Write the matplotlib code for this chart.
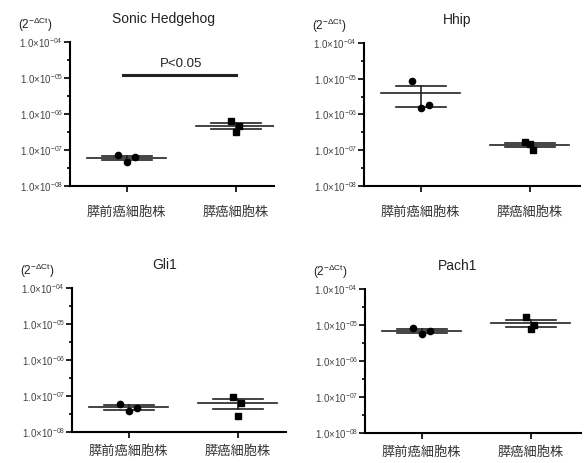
import numpy as np
import matplotlib
matplotlib.use("Agg")
import matplotlib.pyplot as plt

plt.rcParams['font.family'] = ['Liberation Sans', 'Noto Sans CJK JP', 'DejaVu Sans']
plt.rcParams['mathtext.fontset'] = 'custom'
plt.rcParams['mathtext.rm'] = 'Liberation Sans'
plt.rcParams['mathtext.it'] = 'Liberation Sans'

categories = ['膵前癌細胞株', '膵癌細胞株']
genes = ['Sonic Hedgehog', 'Hhip', 'Gli1', 'Pach1']

# three cell lines per group (2^-dCt)
shh_pre = [7.4e-8, 4.5e-8, 6.3e-8]
shh_ca = [6.4e-7, 4.6e-7, 3.2e-7]
hhip_pre = [8.7e-6, 1.5e-6, 1.8e-6]
hhip_ca = [1.65e-7, 1.03e-7, 1.5e-7]
gli1_pre = [6.0e-8, 3.9e-8, 4.6e-8]
gli1_ca = [9.6e-8, 6.5e-8, 2.7e-8]
pach1_pre = [8.5e-6, 5.5e-6, 6.6e-6]
pach1_ca = [1.66e-5, 1.02e-5, 7.8e-6]

jitter_pre = [-0.08, 0.0, 0.08]
jitter_ca = [-0.04, 0.03, 0.0]

data = [(shh_pre, shh_ca), (hhip_pre, hhip_ca), (gli1_pre, gli1_ca), (pach1_pre, pach1_ca)]

decades = [1e-8, 1e-7, 1e-6, 1e-5, 1e-4]
tick_labels = ['1.0×10$^{-08}$', '1.0×10$^{-07}$', '1.0×10$^{-06}$',
               '1.0×10$^{-05}$', '1.0×10$^{-04}$']

W, H = 584, 463
fig = plt.figure(figsize=(5.84, 4.63), dpi=100)

# axes boxes in pixels: left spine x, right end x, top y, bottom y, label pad
boxes = [(70, 274, 42, 186, 10), (364, 580, 43, 186, 10),
         (72, 286, 288, 432, 5), (365, 581, 289, 433, 5)]

for gene, (pre, ca), (x0, x1, yt, yb, pad) in zip(genes, data, boxes):
    ax = fig.add_axes([x0 / W, 1 - yb / H, (x1 - x0) / W, (yb - yt) / H])
    ax.set_yscale('log')
    ax.set_ylim(1e-8, 1e-4)
    ax.set_xlim(-0.52, -0.52 + (x1 - x0) / 109)

    for i, (vals, jit, mk) in enumerate([(pre, jitter_pre, 'o'), (ca, jitter_ca, 's')]):
        vals = np.array(vals)
        m = vals.mean()
        sem = vals.std(ddof=1) / np.sqrt(len(vals))
        ax.plot([i - 0.36, i + 0.36], [m, m], color='#222222', lw=1.2, zorder=2)
        ax.plot([i - 0.23, i + 0.23], [m + sem, m + sem], color='#222222', lw=1.2, zorder=2)
        ax.plot([i - 0.23, i + 0.23], [m - sem, m - sem], color='#222222', lw=1.2, zorder=2)
        ax.plot([i, i], [m - sem, m + sem], color='#222222', lw=1.2, zorder=2)
        ax.plot(np.array(jit) + i, vals, mk, color='black', ms=4.5, zorder=3, ls='none')

    ax.set_yticks(decades)
    ax.set_yticklabels(tick_labels, fontsize=7, color='#444444')
    minors = [10 ** (k + 0.5) for k in range(-8, -4)]
    ax.set_yticks(minors, minor=True)
    ax.yaxis.set_minor_formatter(plt.NullFormatter())
    ax.tick_params(axis='y', which='major', length=4, width=1.2, pad=1)
    ax.tick_params(axis='y', which='minor', length=2.5, width=1.2)
    ax.set_xticks([0, 1])
    ax.set_xticklabels(categories, fontsize=9.5, family=['Noto Sans CJK JP', 'DejaVu Sans'],
                       color='#333333')
    ax.tick_params(axis='x', length=4, width=1.2, pad=pad)

    for s in ['top', 'right']:
        ax.spines[s].set_visible(False)
    for s in ['left', 'bottom']:
        ax.spines[s].set_linewidth(1.5)
    ax.set_facecolor('none')

    fig.text((x0 + 93) / W, 1 - (yt - 23) / H, gene, ha='center', va='center',
             fontsize=10, color='#222222')
    fig.text((x0 - 52) / W, 1 - (yt - 17) / H, '(2$^{-\\Delta\\mathrm{Ct}}$)',
             ha='left', va='center', fontsize=8.5, color='#222222')

    if gene == 'Sonic Hedgehog':
        ax.plot([-0.03, 1.0], [1.25e-5, 1.25e-5], color='#222222', lw=2.2)
        ax.text(0.5, 2.4e-5, 'P<0.05', ha='center', va='center', fontsize=9.5,
                color='#222222')

fig.savefig('out.png', dpi=100)
